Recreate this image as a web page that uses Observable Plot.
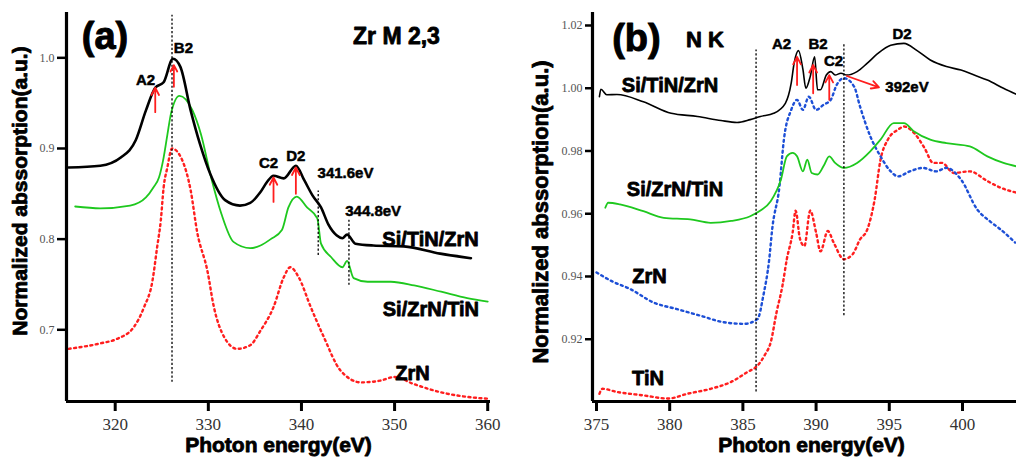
<!DOCTYPE html>
<html><head><meta charset="utf-8">
<script src="https://cdn.jsdelivr.net/npm/d3@7"></script>
<script src="https://cdn.jsdelivr.net/npm/@observablehq/plot@0.6"></script>
<style>
body{margin:0;background:#fff;}
#wrap{position:relative;width:1016px;height:457px;overflow:hidden;background:#fff;}
#pa,#pb{position:absolute;top:0;}
#pa{left:0;} #pb{left:505px;}
</style></head><body>
<div id="wrap"><div id="pa"></div><div id="pb"></div></div>
<script>
// ---------- Panel (a): Zr M2,3 ----------
const aTiNZrN_E = [315,318.4,320.6,322.2,323.3,324.3,325.2,326.2,327.0,328.1,329.1,330.2,331.8,333.4,334.5,335.6,336.3,337.0,338.1,339.4,340.3,341.2,342.1,342.9,343.8,344.4,344.9,345.8,347.7,351.0,354.9,358.2];
const aTiNZrN_A = [0.879,0.881,0.890,0.909,0.942,0.967,0.973,0.999,0.990,0.942,0.905,0.872,0.843,0.837,0.840,0.852,0.863,0.870,0.867,0.881,0.865,0.848,0.835,0.816,0.804,0.801,0.805,0.795,0.793,0.792,0.784,0.779];
const aZrNTiN_E = [315.7,318.4,321.6,323.3,324.1,324.7,325.2,325.6,326.0,326.9,328.3,329.2,330.3,331.4,332.7,334.5,335.6,336.7,337.9,338.6,339.5,340.6,341.7,342.1,343.2,344.4,344.9,345.6,347.1,349.6,352.1,355.0,357.8,360.0];
const aZrNTiN_A = [0.836,0.834,0.837,0.846,0.857,0.868,0.890,0.915,0.939,0.958,0.942,0.916,0.868,0.828,0.797,0.790,0.793,0.800,0.810,0.835,0.847,0.835,0.823,0.795,0.780,0.769,0.776,0.757,0.753,0.753,0.749,0.742,0.735,0.731];
const aZrN_E = [315,318.4,320.2,322.0,323.1,324.0,324.5,324.9,325.2,325.6,326.1,327.2,328.1,328.8,329.9,330.6,331.7,333.1,334.5,335.6,337.0,338.1,338.8,339.7,341.0,342.4,344.2,346.4,348.5,350.0,352.1,355.0,357.8,360.0];
const aZrN_A = [0.679,0.685,0.690,0.703,0.725,0.754,0.791,0.821,0.857,0.879,0.900,0.887,0.854,0.808,0.765,0.725,0.692,0.679,0.683,0.699,0.725,0.758,0.769,0.758,0.725,0.692,0.655,0.642,0.644,0.648,0.640,0.631,0.626,0.624];
const aXTicks = [320,330,340,350,360];
const aYTicks = [0.7,0.8,0.9,1.0];
const aGuides = [{x:326.1,y1:0.642,y2:1.047},{x:341.8,y1:0.782,y2:0.853},{x:345.1,y1:0.749,y2:0.821}];
const aArrows = [{x:324.3,y1:0.940,y2:0.967},{x:326.3,y1:0.968,y2:0.992},{x:337.0,y1:0.841,y2:0.868},{x:339.4,y1:0.850,y2:0.879}];
const aPeakLabels = [{x:323.25,y:0.975,t:"A2"},{x:327.33,y:1.0103,t:"B2"},{x:336.46,y:0.884,t:"C2"},{x:339.4,y:0.891,t:"D2"},{x:344.73,y:0.873,t:"341.6eV"},{x:347.7,y:0.8307,t:"344.8eV"}];
const aSeriesLabels = [{x:353.86,y:0.7996,t:"Si/TiN/ZrN"},{x:353.9,y:0.7219,t:"Si/ZrN/TiN"},{x:351.93,y:0.6515,t:"ZrN"}];

// ---------- Panel (b): N K ----------
const bTiNZrN_E = [375.2,375.3,375.7,376.4,378.2,380.1,381.9,383.5,384.6,385.5,386.2,387.1,387.9,388.3,388.5,388.8,389.1,389.3,389.6,389.9,390.1,390.3,390.7,391.0,391.3,391.7,392.1,392.8,393.5,394.2,395.1,396.0,396.9,397.8,398.9,399.9,400.8,401.7,402.8,403.7];
const bTiNZrN_A = [0.9973,0.9997,0.9979,0.998,0.9957,0.992,0.991,0.9897,0.9891,0.990,0.991,0.992,0.9952,1.0016,1.008,1.012,1.006,1.000,1.0037,1.010,0.9995,0.9995,1.0042,1.0053,1.0042,1.0048,1.0042,1.0053,1.008,1.011,1.0137,1.0143,1.012,1.009,1.0069,1.0058,1.0042,1.0026,1.0000,0.998];
const bZrNTiN_E = [375.6,375.8,376.6,378.2,379.6,381.4,382.8,384.2,385.5,386.2,386.9,387.6,388.0,388.4,388.7,389.1,389.4,389.7,390.1,390.5,390.9,391.3,391.9,392.8,393.7,394.4,395.3,396.0,396.7,397.8,398.9,400.5,401.7,402.8,403.7];
const bZrNTiN_A = [0.9619,0.9635,0.963,0.9608,0.9587,0.9582,0.9571,0.9577,0.9592,0.9610,0.9640,0.9709,0.9783,0.9794,0.9783,0.9735,0.9772,0.973,0.9725,0.9751,0.9783,0.9762,0.9746,0.9762,0.9799,0.9836,0.9889,0.9889,0.9862,0.9836,0.9825,0.9815,0.9783,0.9762,0.9751];
const bZrN_E = [375.0,376.0,377.3,378.9,380.5,382.1,383.7,385.1,386.0,386.4,386.8,387.0,387.5,387.8,388.3,388.7,389.1,389.5,390.0,390.5,391.0,391.4,391.9,392.6,393.0,393.7,394.4,395.1,395.6,396.4,397.3,398.2,398.9,399.9,401.0,401.9,402.6,403.6];
const bZrN_A = [0.9413,0.9386,0.9360,0.9317,0.9296,0.9275,0.9254,0.9249,0.9264,0.934,0.9455,0.955,0.9688,0.9836,0.9931,0.9963,0.9931,0.9973,0.9931,0.9947,0.9963,1.001,1.0032,1.0005,0.9942,0.9847,0.9783,0.9735,0.9719,0.9735,0.9746,0.9735,0.9746,0.9709,0.9614,0.9575,0.955,0.9508];
const bTiN_E = [375.2,375.4,376.4,378.2,379.9,381.2,382.8,384.2,385.3,386.0,386.5,386.9,387.3,387.7,388.0,388.4,388.6,388.9,389.2,389.6,390.0,390.3,390.8,391.2,391.9,392.5,393.0,393.5,394.0,394.4,394.9,395.6,396.0,396.7,397.4,398.0,398.6,399.4,400.5,401.7,402.6,403.7];
const bTiN_A = [0.9026,0.9042,0.9032,0.9021,0.9011,0.9026,0.9042,0.9064,0.9095,0.9116,0.9150,0.919,0.9286,0.937,0.9455,0.954,0.9610,0.952,0.9497,0.9610,0.954,0.948,0.9545,0.9508,0.9455,0.9471,0.9518,0.955,0.9645,0.9772,0.9836,0.9868,0.9878,0.9857,0.981,0.9762,0.9762,0.973,0.9735,0.9704,0.9683,0.9667];
const bXTicks = [375,380,385,390,395,400];
const bYTicks = [0.92,0.94,0.96,0.98,1.00,1.02];
const bGuides = [{x:385.9,y1:0.9032,y2:1.0122},{x:391.9,y1:0.9275,y2:1.0144}];
const bArrows = [{x1:388.7,x2:388.7,y1:1.001,y2:1.010},{x1:389.8,x2:389.8,y1:0.9984,y2:1.0074},{x1:390.9,x2:390.9,y1:0.9963,y2:1.0042},{x1:392.1,x2:394.3,y1:1.0039,y2:1.0003}];
const bPeakLabels = [{x:387.64,y:1.0141,t:"A2"},{x:390.13,y:1.0141,t:"B2"},{x:391.19,y:1.0087,t:"C2"},{x:395.87,y:1.0173,t:"D2"},{x:396.21,y:1.0003,t:"392eV"}];
const bSeriesLabels = [{x:380.02,y:1.0010,t:"Si/TiN/ZrN"},{x:380.36,y:0.9676,t:"Si/ZrN/TiN"},{x:378.62,y:0.94,t:"ZrN"},{x:378.52,y:0.9073,t:"TiN"}];

const xTitle = "Photon energy(eV)";
const yTitle = "Normalized abssorption(a.u.)";

const pairs = (xs, ys) => xs.map((x, i) => [x, ys[i]]);
const F = "Liberation Sans, Arial, sans-serif";
const SERIF = "Liberation Serif, Times New Roman, serif";
const GREEN = "#1ec81e", RED = "#ff1e1e", BLUE = "#1d4fd6";
const heavy = {fontFamily: F, fontWeight: "bold", fill: "black", stroke: "black", strokeWidth: 0.8};

function panel({width, marginLeft, marginRight, xDomain, yDomain, xTicks, yTicks, yFmt, yTickSize, lines, guides, arrows, peakLabels, peakSize, seriesLabels, big, bigX, bigY, title, titleX, titleY, titleSize, ytitleDx, ytitleDy, ytitleSize, xtitleDx}) {
  return Plot.plot({
    width, height: 457, marginLeft, marginRight, marginTop: 12, marginBottom: 56,
    style: {fontFamily: F, background: "white", overflow: "visible"},
    x: {domain: xDomain, label: null},
    y: {domain: yDomain, label: null},
    marks: [
      ...lines,
      Plot.ruleX(guides, {x: "x", y1: "y1", y2: "y2", stroke: "black", strokeWidth: 1.3, strokeDasharray: "2.2,2"}),
      Plot.arrow(arrows, {x1: "x1", x2: "x2", y1: "y1", y2: "y2", stroke: RED, strokeWidth: 1.8, headLength: 7, headAngle: 55}),
      Plot.text(peakLabels, {x: "x", y: "y", text: "t", fontSize: peakSize, ...heavy, strokeWidth: 0.5}),
      Plot.text(seriesLabels, {x: "x", y: "y", text: "t", fontSize: 20, ...heavy}),
      Plot.text([big], {x: bigX, y: bigY, text: d => d, fontSize: 38, ...heavy, strokeWidth: 1}),
      Plot.text([title], {x: titleX, y: titleY, text: d => d, fontSize: titleSize, ...heavy}),
      Plot.text([xTitle], {frameAnchor: "bottom", dy: 50, dx: xtitleDx, textAnchor: "middle", text: d => d, fontSize: 21, ...heavy}),
      Plot.text([yTitle], {frameAnchor: "left", rotate: -90, textAnchor: "middle", dx: ytitleDx, dy: ytitleDy, text: d => d, fontSize: ytitleSize, ...heavy}),
      Plot.axisX({ticks: xTicks, tickSize: 10, tickPadding: 6, strokeWidth: 3, stroke: "black", fill: "#333", fontSize: 17, fontFamily: SERIF, tickFormat: d => String(d), label: null}),
      Plot.axisY({ticks: yTicks, tickSize: yTickSize, tickPadding: 3, strokeWidth: 2.5, stroke: "black", fill: "#555", fontSize: 12, fontFamily: SERIF, tickFormat: yFmt, label: null}),
      Plot.ruleX([xDomain[0]], {stroke: "black", strokeWidth: 3.2}),
      Plot.ruleY([yDomain[0]], {stroke: "black", strokeWidth: 3.2})
    ]
  });
}

const pa = panel({
  width: 505, marginLeft: 66, marginRight: 15,
  xDomain: [314.77, 360.3], yDomain: [0.6209, 1.05],
  xTicks: aXTicks, yTicks: aYTicks, yFmt: d3.format(".1f"), yTickSize: 9,
  lines: [
    Plot.line(pairs(aZrN_E, aZrN_A), {stroke: RED, strokeWidth: 2.4, strokeDasharray: "2,3.5", curve: "monotone-x"}),
    Plot.line(pairs(aZrNTiN_E, aZrNTiN_A), {stroke: GREEN, strokeWidth: 1.8, curve: "monotone-x"}),
    Plot.line(pairs(aTiNZrN_E, aTiNZrN_A), {stroke: "black", strokeWidth: 2.6, curve: "monotone-x"})
  ],
  guides: aGuides.map(d => ({...d})),
  arrows: aArrows.map(d => ({x1: d.x, x2: d.x, y1: d.y1, y2: d.y2})),
  peakLabels: aPeakLabels, peakSize: 15, seriesLabels: aSeriesLabels,
  big: "(a)", bigX: 318.9, bigY: 1.0235,
  title: "Zr M 2,3", titleX: 350.2, titleY: 1.0235, titleSize: 23,
  ytitleDx: -46, ytitleDy: -16, ytitleSize: 21, xtitleDx: 0
});
const pb = panel({
  width: 511, marginLeft: 87, marginRight: 0,
  xDomain: [374.727, 403.69], yDomain: [0.90015, 1.02414],
  xTicks: bXTicks, yTicks: bYTicks, yFmt: d3.format(".2f"), yTickSize: 7,
  lines: [
    Plot.line(pairs(bTiN_E, bTiN_A), {stroke: RED, strokeWidth: 2.4, strokeDasharray: "2,3.5", curve: "monotone-x"}),
    Plot.line(pairs(bZrN_E, bZrN_A), {stroke: BLUE, strokeWidth: 2.4, strokeDasharray: "2,3.5", curve: "monotone-x"}),
    Plot.line(pairs(bZrNTiN_E, bZrNTiN_A), {stroke: GREEN, strokeWidth: 1.8, curve: "monotone-x"}),
    Plot.line(pairs(bTiNZrN_E, bTiNZrN_A), {stroke: "black", strokeWidth: 1.6, curve: "monotone-x"})
  ],
  guides: bGuides, arrows: bArrows,
  peakLabels: bPeakLabels, peakSize: 15, seriesLabels: bSeriesLabels,
  big: "(b)", bigX: 377.73, bigY: 1.0157,
  title: "N K", titleX: 382.41, titleY: 1.0155, titleSize: 22,
  ytitleDx: -52, ytitleDy: 5, ytitleSize: 22, xtitleDx: 7
});
document.getElementById("pa").appendChild(pa);
document.getElementById("pb").appendChild(pb);
</script>
</body></html>
